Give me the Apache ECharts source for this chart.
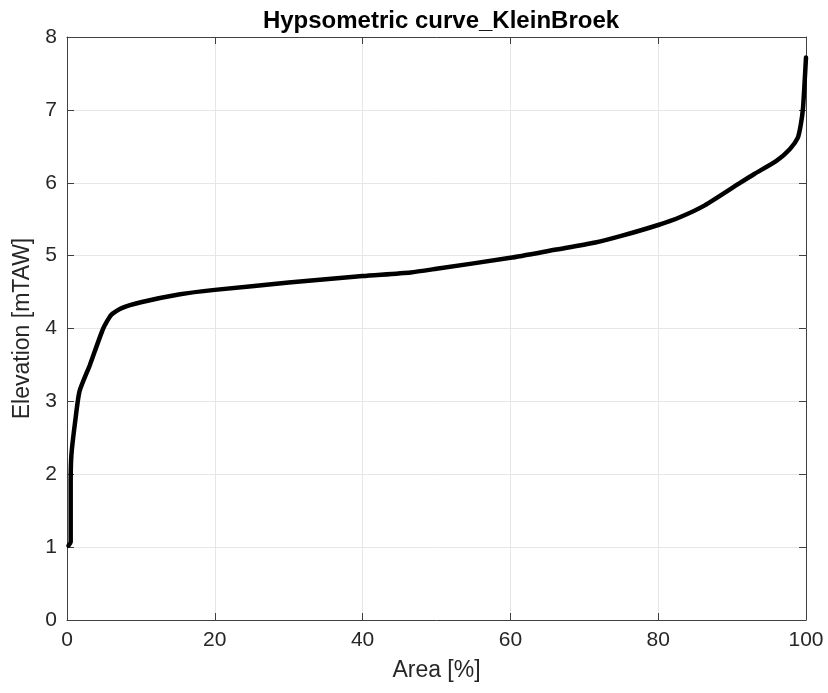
<!DOCTYPE html>
<html>
<head>
<meta charset="utf-8">
<script src="https://cdn.jsdelivr.net/npm/echarts@6/dist/echarts.min.js"></script>
<style>html,body{margin:0;padding:0;background:#fff}#c{width:828px;height:693px}</style>
</head>
<body>
<div id="c"></div>
<script>
const areaPct = [0.2, 0.5, 0.5, 0.6, 1.1, 1.7, 3.1, 4.9, 6.0, 7.4, 10, 15.3, 20, 30, 40, 46.5, 50, 60, 66, 71.5, 75, 80, 83, 86.3, 90.8, 93, 96, 97.8, 98.9, 99.3, 99.6, 100];
const elevation = [1.02, 1.07, 1.9, 2.27, 2.72, 3.14, 3.5, 4.0, 4.19, 4.28, 4.36, 4.47, 4.53, 4.63, 4.72, 4.77, 4.82, 4.97, 5.08, 5.18, 5.27, 5.42, 5.53, 5.69, 5.98, 6.12, 6.3, 6.46, 6.62, 6.8, 7.03, 7.72];
const titleText = 'Hypsometric curve_KleinBroek';
const xName = 'Area [%]';
const yName = 'Elevation [mTAW]';

const chart = echarts.init(document.getElementById('c'), null, {renderer: 'canvas'});
const font = 'Liberation Sans, Arial, sans-serif';
const axisColor = '#404040';
const textColor = '#262626';
const gridLine = {show: true, lineStyle: {color: '#e6e6e6', width: 1}};
chart.setOption({
  animation: false,
  title: {text: titleText, left: 436, textAlign: 'center', top: 4,
    textStyle: {fontFamily: font, fontSize: 24, fontWeight: 'bold', color: '#000'}},
  grid: {left: 67, right: 22, top: 37, bottom: 73, containLabel: false},
  xAxis: [{
    type: 'value', min: 0, max: 100, interval: 20, position: 'bottom',
    name: xName, nameLocation: 'middle', nameGap: 39,
    nameTextStyle: {fontFamily: font, fontSize: 23, color: textColor},
    axisLine: {show: true, onZero: false, lineStyle: {color: axisColor, width: 1}},
    axisTick: {show: true, inside: true, length: 7, lineStyle: {color: axisColor}},
    axisLabel: {fontFamily: font, fontSize: 21, color: textColor, margin: 10},
    splitLine: gridLine
  }, {
    type: 'value', min: 0, max: 100, interval: 20, position: 'top',
    axisLine: {show: true, onZero: false, lineStyle: {color: axisColor, width: 1}},
    axisTick: {show: true, inside: true, length: 7, lineStyle: {color: axisColor}},
    axisLabel: {show: false}, splitLine: {show: false}
  }],
  yAxis: [{
    type: 'value', min: 0, max: 8, interval: 1, position: 'left',
    name: yName, nameLocation: 'middle', nameGap: 31, nameRotate: 90,
    nameTextStyle: {fontFamily: font, fontSize: 23, color: textColor},
    axisLine: {show: true, onZero: false, lineStyle: {color: axisColor, width: 1}},
    axisTick: {show: true, inside: true, length: 7, lineStyle: {color: axisColor}},
    axisLabel: {fontFamily: font, fontSize: 21, color: textColor, margin: 10},
    splitLine: gridLine
  }, {
    type: 'value', min: 0, max: 8, interval: 1, position: 'right',
    axisLine: {show: true, onZero: false, lineStyle: {color: axisColor, width: 1}},
    axisTick: {show: true, inside: true, length: 7, lineStyle: {color: axisColor}},
    axisLabel: {show: false}, splitLine: {show: false}
  }],
  series: [{
    type: 'line', xAxisIndex: 0, yAxisIndex: 0,
    data: areaPct.map((a, i) => [a, elevation[i]]),
    showSymbol: false, symbol: 'none', smooth: 0.2,
    lineStyle: {color: '#000', width: 4.5, join: 'round', cap: 'round'}
  }]
});
</script>
</body>
</html>
